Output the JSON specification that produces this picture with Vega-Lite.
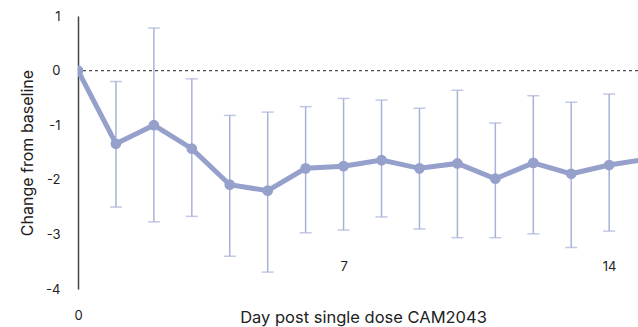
{
  "$schema": "https://vega.github.io/schema/vega-lite/v6.json",
  "width": 560,
  "height": 273,
  "autosize": {"type": "none"},
  "padding": {"left": 78, "top": 16, "right": 0, "bottom": 38},
  "background": "white",
  "config": {"view": {"stroke": null}, "font": "Inter"},
  "data": {
    "values": [
      {"day": 0, "mean": 0.0, "lo": 0.0, "hi": 0.0},
      {"day": 1, "mean": -1.34, "lo": -2.50, "hi": -0.20},
      {"day": 2, "mean": -1.00, "lo": -2.77, "hi": 0.78},
      {"day": 3, "mean": -1.43, "lo": -2.67, "hi": -0.15},
      {"day": 4, "mean": -2.09, "lo": -3.40, "hi": -0.82},
      {"day": 5, "mean": -2.20, "lo": -3.69, "hi": -0.76},
      {"day": 6, "mean": -1.79, "lo": -2.97, "hi": -0.66},
      {"day": 7, "mean": -1.75, "lo": -2.92, "hi": -0.51},
      {"day": 8, "mean": -1.64, "lo": -2.68, "hi": -0.54},
      {"day": 9, "mean": -1.79, "lo": -2.90, "hi": -0.69},
      {"day": 10, "mean": -1.70, "lo": -3.06, "hi": -0.36},
      {"day": 11, "mean": -1.98, "lo": -3.06, "hi": -0.96},
      {"day": 12, "mean": -1.69, "lo": -2.99, "hi": -0.46},
      {"day": 13, "mean": -1.89, "lo": -3.24, "hi": -0.58},
      {"day": 14, "mean": -1.73, "lo": -2.94, "hi": -0.43},
      {"day": 15, "mean": -1.62, "lo": -2.80, "hi": -0.45}
    ]
  },
  "layer": [
    {
      "data": {"values": [{"y": 0}]},
      "mark": {"type": "rule", "color": "#4d4d4d", "strokeDash": [3, 3], "strokeWidth": 1.3},
      "encoding": {"y": {"field": "y", "type": "quantitative", "scale": {"domain": [-4, 1]}}}
    },
    {
      "transform": [{"filter": "datum.day > 0"}],
      "mark": {"type": "rule", "color": "#a8b2d8", "strokeWidth": 1.5, "clip": true},
      "encoding": {
        "x": {"field": "day", "type": "quantitative"},
        "y": {"field": "lo", "type": "quantitative"},
        "y2": {"field": "hi"}
      }
    },
    {
      "transform": [{"filter": "datum.day > 0"}],
      "mark": {"type": "tick", "orient": "horizontal", "color": "#a8b2d8", "size": 12, "thickness": 1.5, "clip": true},
      "encoding": {
        "x": {"field": "day", "type": "quantitative"},
        "y": {"field": "lo", "type": "quantitative"}
      }
    },
    {
      "transform": [{"filter": "datum.day > 0"}],
      "mark": {"type": "tick", "orient": "horizontal", "color": "#a8b2d8", "size": 12, "thickness": 1.5, "clip": true},
      "encoding": {
        "x": {"field": "day", "type": "quantitative"},
        "y": {"field": "hi", "type": "quantitative"}
      }
    },
    {
      "mark": {"type": "line", "color": "#95a0cb", "strokeWidth": 5, "clip": true, "point": {"filled": true, "size": 115, "color": "#95a0cb", "opacity": 1}},
      "encoding": {
        "x": {
          "field": "day",
          "type": "quantitative",
          "scale": {"domain": [0, 14.76], "nice": false, "zero": false},
          "axis": {
            "values": [0, 7, 14],
            "domain": false,
            "ticks": false,
            "grid": false,
            "labelFontSize": 13,
            "labelColor": "#222222",
            "labelBaseline": "middle",
            "labelFlush": false,
            "labelPadding": {"condition": {"test": "datum.value == 0", "value": 26}, "value": -23},
            "title": "Day post single dose CAM2043",
            "titleFontSize": 16.5,
            "titleFontWeight": "normal",
            "titleColor": "#222222",
            "titleBaseline": "middle",
            "titleAnchor": "middle",
            "titleX": 285,
            "titleY": 28
          }
        },
        "y": {
          "field": "mean",
          "type": "quantitative",
          "scale": {"domain": [-4, 1], "nice": false},
          "axis": {
            "values": [1, 0, -1, -2, -3, -4],
            "labelExpr": "datum.value + ''",
            "grid": false,
            "ticks": false,
            "domainColor": "#444444",
            "domainWidth": 1.5,
            "labelFontSize": 13,
            "labelColor": "#222222",
            "labelPadding": 18,
            "title": "Change from baseline",
            "titleFontSize": 16,
            "titleFontWeight": "normal",
            "titleColor": "#222222",
            "titlePadding": 10
          }
        }
      }
    }
  ]
}
